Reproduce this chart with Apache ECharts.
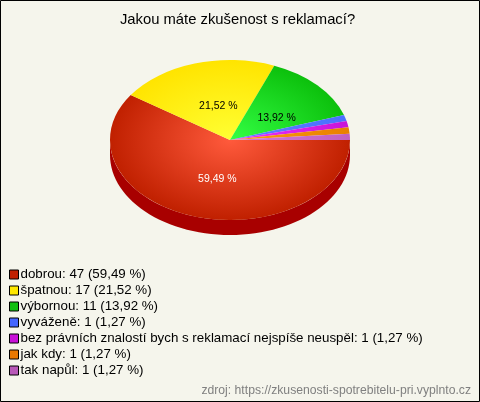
<!DOCTYPE html>
<html><head><meta charset="utf-8">
<style>html,body{margin:0;padding:0;background:#f5f5ec}#c{width:480px;height:402px}</style>
<script src="https://cdn.jsdelivr.net/npm/echarts@6/dist/echarts.min.js"></script>
</head><body><div id="c"></div>
<script>
var categories = ['dobrou','špatnou','výbornou','vyváženě','bez právních znalostí bych s reklamací nejspíše neuspěl','jak kdy','tak napůl'];
var counts = [47,17,11,1,1,1,1];
var percentLabels = ['59,49 %','21,52 %','13,92 %','1,27 %','1,27 %','1,27 %','1,27 %'];
var legendColors = ['#c02000','#ffe800','#10c010','#4466ff','#c810d8','#e87800','#b858b8'];
var centerColors = ['#ff5a3c','#ffff33','#33ff44','#5f80ff','#f030ff','#ff9a10','#d878d8'];
var edgeColors = ['#c02000','#ffe400','#0cc00c','#4a70ff','#c814d8','#e88000','#c060c0'];
var sideColors = ['#a80000','#b0a000','#088008','#2840b0','#800890','#a05000','#804080'];

var CX=230, CY=140, RX=120, RY=80, DEPTH=15;
var LABEL_SHIFT=[[5,1],[6,4],[3,6]];
var total = counts.reduce(function(a,b){return a+b;},0);
var byName = {};
categories.forEach(function(n,i){byName[n]=i;});

function slice(i){
  var before = counts.slice(0,i).reduce(function(a,b){return a+b;},0);
  return [before/total*Math.PI*2,(before+counts[i])/total*Math.PI*2];
}
function renderSide(i){
  return function(params,api){
    var s=slice(i), a=Math.max(s[0],0), b=Math.min(s[1],Math.PI);
    if(b<=a) return {type:'group',children:[]};
    var top=[],bot=[],n=60;
    for(var k=0;k<=n;k++){
      var t=a+(b-a)*k/n, x=CX+RX*Math.cos(t), y=CY+RY*Math.sin(t);
      top.push([x,y]); bot.unshift([x,y+DEPTH]);
    }
    return {type:'polygon',z2:1,shape:{points:top.concat(bot)},style:{fill:sideColors[i]},silent:true};
  };
}
function renderTop(i){
  return function(params,api){
    var s=slice(i), mid=(s[0]+s[1])/2;
    var kids=[{type:'sector',x:CX,y:CY,scaleY:RY/RX,z2:5,
      shape:{cx:0,cy:0,r0:0,r:RX,startAngle:s[0],endAngle:s[1],clockwise:true},
      style:{fill:new echarts.graphic.RadialGradient(0,0,RX,[
        {offset:0,color:centerColors[i]},{offset:1,color:edgeColors[i]}],true)}}];
    if(i<3){
      kids.push({type:'text',z2:10,
        x:CX+RX*0.5*Math.cos(mid)+LABEL_SHIFT[i][0],y:CY+RY*0.5*Math.sin(mid)+LABEL_SHIFT[i][1],
        style:{text:percentLabels[i],fill:i===0?'#ffffff':'#000000',
          font:'10.5px "Liberation Sans"',align:'center',verticalAlign:'middle'}});
    }
    return {type:'group',children:kids};
  };
}
var series=[];
categories.forEach(function(n,i){
  series.push({type:'custom',name:n+' ',silent:true,animation:false,data:[[counts[i]]],z:1,renderItem:renderSide(i),coordinateSystem:'none',
    tooltip:{show:false}});
});
categories.forEach(function(n,i){
  series.push({type:'custom',name:n,silent:true,animation:false,data:[[counts[i]]],z:2,renderItem:renderTop(i),coordinateSystem:'none',
    itemStyle:{color:legendColors[i]}});
});
var chart=echarts.init(document.getElementById('c'),null,{renderer:'canvas'});
chart.setOption({
  animation:false,
  backgroundColor:'#f5f5ec',
  title:{text:'Jakou máte zkušenost s reklamací?',left:232.5,top:7,textAlign:'center',
    textStyle:{fontFamily:'Liberation Sans',fontSize:14.8,fontWeight:'normal',color:'#000'}},
  legend:{orient:'vertical',left:4,top:263,itemWidth:9,itemHeight:9,itemGap:3,selectedMode:false,
    icon:'rect',data:categories,
    itemStyle:{borderColor:'#000',borderWidth:1},
    formatter:function(n){var i=byName[n];return n+': '+counts[i]+' ('+percentLabels[i]+')';},
    textStyle:{fontFamily:'Liberation Sans',fontSize:13.33,lineHeight:13,color:'#000',padding:[0,0,0,-3]}},
  graphic:[
    {type:'rect',z:100,shape:{x:0.5,y:0.5,width:479,height:401},style:{fill:'none',stroke:'#000',lineWidth:1},silent:true},
    {type:'text',z:100,right:9,top:385,style:{text:'zdroj: https://zkusenosti-spotrebitelu-pri.vyplnto.cz',fill:'#808080',font:'12.2px "Liberation Sans"'},silent:true}
  ],
  series:series
});
</script></body></html>
